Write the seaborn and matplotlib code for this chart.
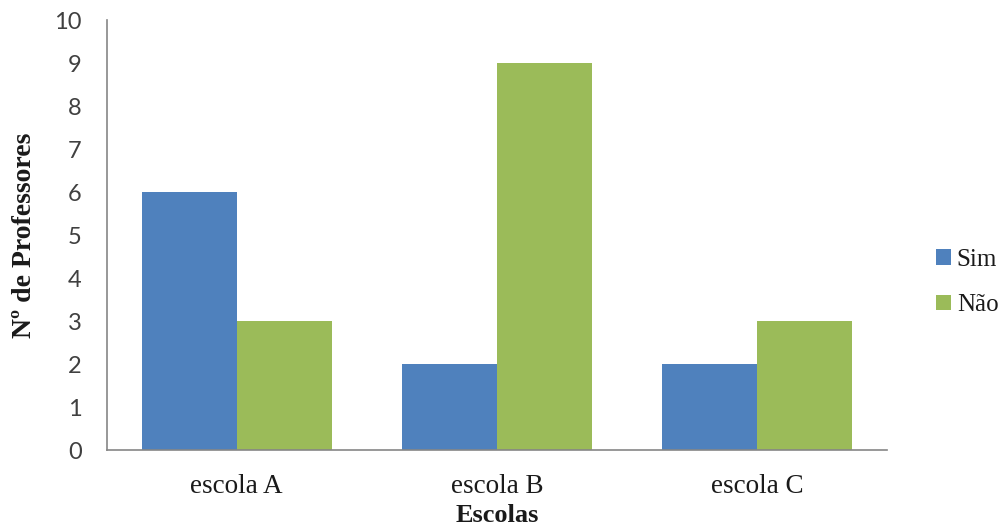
import matplotlib
matplotlib.use("Agg")
import matplotlib.pyplot as plt
import seaborn as sns
import pandas as pd

# Data
escolas = ["escola A", "escola B", "escola C"]
sim = [6, 2, 2]
nao = [3, 9, 3]
respostas = ["Sim", "Não"]
cores = ["#4F81BD", "#9BBB59"]

df = pd.DataFrame({
    "escola": escolas * 2,
    "n": sim + nao,
    "resposta": [respostas[0]] * len(escolas) + [respostas[1]] * len(escolas),
})

sns.set_theme(style="white")
plt.rcParams["font.family"] = ["DejaVu Sans"]

fig = plt.figure(figsize=(10.06, 5.31), dpi=100)
ax = fig.add_axes([0.106, 0.1525, 0.776, 0.8095])

sns.barplot(data=df, x="escola", y="n", hue="resposta", palette=cores,
            width=0.73, saturation=1, ax=ax, linewidth=0)

ax.set_ylim(0, 10)
ax.set_xlim(-0.5, 2.5)
ax.set_yticks(range(0, 11))

for s in ["top", "right"]:
    ax.spines[s].set_visible(False)
for s in ["left", "bottom"]:
    ax.spines[s].set_color("#868686")
    ax.spines[s].set_linewidth(1.2)

ax.tick_params(axis="y", length=0, pad=18, labelsize=17, labelcolor="#404040")
ax.tick_params(axis="x", length=0, pad=17)
for lbl in ax.get_yticklabels():
    lbl.set_fontfamily("Lato")
for lbl in ax.get_xticklabels():
    lbl.set_fontfamily("Liberation Serif")
    lbl.set_fontsize(19.5)
    lbl.set_color("#1a1a1a")

ax.set_xlabel("Escolas", fontfamily="Liberation Serif", fontweight="bold",
              fontsize=19, color="#1a1a1a", labelpad=4)
ax.set_ylabel("Nº de Professores", fontfamily="Liberation Serif",
              fontweight="bold", fontsize=20, color="#1a1a1a", labelpad=12)

ax.legend(loc="center left", bbox_to_anchor=(1.033, 0.39), frameon=False,
          handlelength=0.6, handleheight=0.6, handletextpad=0.25,
          labelspacing=0.95, prop={"family": "Liberation Serif", "size": 18})
for t in ax.get_legend().get_texts():
    t.set_color("#1a1a1a")

fig.savefig("out.png", dpi=100, facecolor="white")
